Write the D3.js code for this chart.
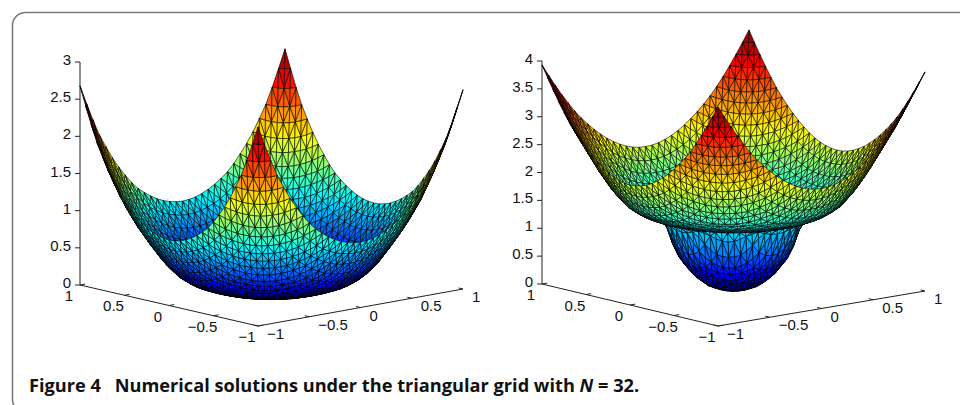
<!DOCTYPE html>
<html><head><meta charset="utf-8">
<script src="https://cdn.jsdelivr.net/npm/d3@7"></script>
<style>html,body{margin:0;padding:0;background:#fff;overflow:hidden}svg{display:block}</style>
</head><body><svg id="c" width="960" height="405"></svg>
<script>
// Values
const leftRadii   = [0, .1, .2, .3, .4, .5, .6, .7, .8, .9, 1, 1.1, 1.2, 1.3, 1.4143];
const leftHeights = [-.08, -.078, -.068, -.05, -.02, .03, .09, .2, .38, .62, .88, 1.19, 1.58, 2.03, 2.68];
const rightRadii   = [0, .1, .2, .3, .4, .45, .5, .53, .6, .7, .8, .9, 1, 1.1, 1.2, 1.3, 1.4143];
const rightHeights = [-.04, -.02, .07, .25, .55, .8, 1.15, 1.24, 1.29, 1.38, 1.53, 1.8, 2.15, 2.55, 2.95, 3.4, 3.93];
const leftZTicks  = [0, .5, 1, 1.5, 2, 2.5, 3];
const rightZTicks = [0, .5, 1, 1.5, 2, 2.5, 3, 3.5, 4];
const floorTicks  = [-1, -.5, 0, .5, 1];
const jetStops = ["#00008f","#0000ff","#00ffff","#ffff00","#ff0000","#800000"];
const jetAt    = [0, .11, .35, .6, .86, 1];
const caption = [["Figure 4\u2002 Numerical solutions under the triangular grid with ","normal"],["N","italic"],[" = 32.","normal"]];
const cellsPerSide = 32;

const svg = d3.select("#c");
svg.append("rect").attr("x",12.5).attr("y",12.5).attr("width",1000).attr("height",400).attr("rx",13)
   .attr("fill","#fff").attr("stroke","#7a7a7a").attr("stroke-width",1.6);

const fmt = v => String(v).replace("-","\u2212");
const jet = d3.scaleLinear().domain(jetAt).range(jetStops).interpolate(d3.interpolateRgb).clamp(true);

function plot(o){
  const g = svg.append("g");
  // floor scales: each runs from the front corner to a side corner
  const aX = d3.scaleLinear().domain([-1,1]).range([0,o.left[0]-o.front[0]]);
  const aY = d3.scaleLinear().domain([-1,1]).range([0,o.left[1]-o.front[1]]);
  const bX = d3.scaleLinear().domain([-1,1]).range([0,o.right[0]-o.front[0]]);
  const bY = d3.scaleLinear().domain([-1,1]).range([0,o.right[1]-o.front[1]]);
  const zPx = d3.scaleLinear().domain([0,o.zTicks[o.zTicks.length-1]]).range([0,o.left[1]-o.zTop]);
  const height = d3.scaleLinear().domain(o.radii).range(o.heights);
  const zMin = d3.min(o.heights), zMax = d3.max(o.heights);
  const shade = d3.scaleLinear().domain([zMin,zMax]).range([0,1]);
  const P = (a,b) => {
    const z = height(Math.hypot(a,b));
    const fy = o.front[1]+aY(a)+bY(b);
    return {x:o.front[0]+aX(a)+bX(b), y:fy-zPx(z), z, fy, zp:zPx(z)};
  };
  // axes
  const ax = g.append("g").attr("stroke","#222").attr("stroke-width",1).attr("fill","none");
  ax.append("path").attr("d",d3.line()([[o.left[0],o.zTop],o.left,o.front,o.right]));
  ax.selectAll(".zt").data(o.zTicks).join("line").attr("class","zt")
    .attr("x1",o.left[0]-5).attr("x2",o.left[0]).attr("y1",d=>o.left[1]-zPx(d)).attr("y2",d=>o.left[1]-zPx(d));
  const fa = d=>[o.front[0]+aX(d), o.front[1]+aY(d)], fb = d=>[o.front[0]+bX(d), o.front[1]+bY(d)];
  const tickB = (bX(1)-bX(-1))*.025, tickBy=(bY(1)-bY(-1))*.025, tickA=(aX(1)-aX(-1))*.025, tickAy=(aY(1)-aY(-1))*.025;
  ax.selectAll(".at").data(floorTicks).join("line").attr("class","at")
    .attr("x1",d=>fa(d)[0]).attr("y1",d=>fa(d)[1]).attr("x2",d=>fa(d)[0]+tickB).attr("y2",d=>fa(d)[1]+tickBy);
  ax.selectAll(".bt").data(floorTicks).join("line").attr("class","bt")
    .attr("x1",d=>fb(d)[0]).attr("y1",d=>fb(d)[1]).attr("x2",d=>fb(d)[0]+tickA).attr("y2",d=>fb(d)[1]+tickAy);
  const txt = g.append("g").attr("font-family","'Liberation Sans',Arial,sans-serif").attr("font-size",15).attr("fill","#111");
  txt.selectAll(".zl").data(o.zTicks).join("text").attr("class","zl").attr("text-anchor","end")
    .attr("x",o.left[0]-9).attr("y",d=>o.left[1]-zPx(d)+3).text(fmt);
  txt.selectAll(".al").data(floorTicks).join("text").attr("class","al").attr("text-anchor","middle")
    .attr("x",d=>fa(d)[0]-11).attr("y",d=>fa(d)[1]+16).text(fmt);
  txt.selectAll(".bl").data(floorTicks).join("text").attr("class","bl").attr("text-anchor","start")
    .attr("x",d=>fb(d)[0]+9).attr("y",d=>fb(d)[1]+13).text(fmt);
  // triangular mesh: each cell split by both diagonals
  const grid = d3.scaleLinear().domain([0,cellsPerSide]).range([-1,1]);
  const tris = [];
  d3.range(cellsPerSide).forEach(i=>d3.range(cellsPerSide).forEach(j=>{
    const A=P(grid(i),grid(j)),B=P(grid(i+1),grid(j)),C=P(grid(i+1),grid(j+1)),D=P(grid(i),grid(j+1)),
          M=P(grid(i+.5),grid(j+.5));
    [[A,B,M],[B,C,M],[C,D,M],[D,A,M]].forEach(t=>tris.push(t));
  }));
  const key = t => d3.mean(t,p=>4.9*p.fy+.2*p.zp);
  tris.sort((p,q)=>key(p)-key(q));
  const line = d3.line().x(p=>p.x).y(p=>p.y);
  g.append("g").attr("stroke","#000").attr("stroke-width",.6).attr("stroke-linejoin","round")
    .selectAll("path").data(tris).join("path")
    .attr("d",t=>line(t)+"Z").attr("fill",t=>jet(shade(d3.mean(t,p=>p.z))));
}
plot({left:[80,285],front:[258,326],right:[463,289],zTop:62,zTicks:leftZTicks,radii:leftRadii,heights:leftHeights});
plot({left:[542,284],front:[718,326],right:[925,291],zTop:61,zTicks:rightZTicks,radii:rightRadii,heights:rightHeights});

const cap = svg.append("text").attr("x",29).attr("y",391.5).attr("font-family","'Open Sans',sans-serif")
  .attr("font-size",18.2).attr("font-weight",700).attr("fill","#111");
cap.selectAll("tspan").data(caption).join("tspan").attr("font-style",d=>d[1]).text(d=>d[0]);
</script></body></html>
